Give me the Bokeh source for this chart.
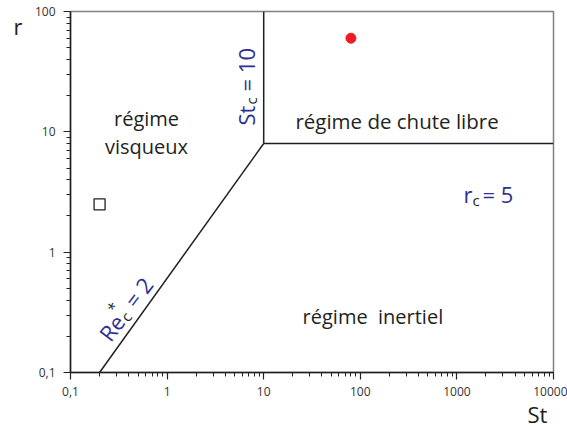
import math
from bokeh.plotting import figure
from bokeh.models import Label, FixedTicker, CustomJSTickFormatter, Range1d
from bokeh.core.properties import value
from bokeh.embed import file_html
from bokeh.resources import INLINE

# ---- data ----
x_ticks = [0.1, 1, 10, 100, 1000, 10000]
x_tick_labels = ["0,1", "1", "10", "100", "1000", "10000"]
y_ticks = [0.1, 1, 10, 100]
y_tick_labels = ["0,1", "1", "10", "100"]

# regime boundaries
re_line_st = [0.2, 10]       # Re*_c = 2
re_line_r = [0.1, 8]
st_line_st = [10, 10]        # St_c = 10
st_line_r = [8, 100]
rc_line_st = [10, 10000]     # r_c = 5 boundary
rc_line_r = [8, 8]

# points
red_st = [80]
red_r = [60]
square_st = [0.2]
square_r = [2.5]

BLUE = "#2e3192"
DARK = "#231f20"
FONT = "Open Sans"

minor_x = [m * 10.0 ** e for e in range(-1, 4) for m in range(2, 10)]
minor_y = [m * 10.0 ** e for e in range(-1, 2) for m in range(2, 10)]

p = figure(width=567, height=430, x_axis_type="log", y_axis_type="log",
           x_range=Range1d(0.1, 10000), y_range=Range1d(0.1, 100),
           output_backend="svg", toolbar_location=None,
           min_border_left=70, min_border_right=14, min_border_top=11,
           min_border_bottom=58)

p.grid.visible = False
p.outline_line_color = "#808080"
p.outline_line_width = 1.5

fmt_code = """
for (let i = 0; i < tvals.length; i++) {
  if (Math.abs(Math.log10(tick) - Math.log10(tvals[i])) < 1e-6) return tlabels[i];
}
return "";
"""
p.xaxis.ticker = FixedTicker(ticks=x_ticks, minor_ticks=minor_x)
p.yaxis.ticker = FixedTicker(ticks=y_ticks, minor_ticks=minor_y)
p.xaxis.formatter = CustomJSTickFormatter(args=dict(tvals=x_ticks, tlabels=x_tick_labels), code=fmt_code)
p.yaxis.formatter = CustomJSTickFormatter(args=dict(tvals=y_ticks, tlabels=y_tick_labels), code=fmt_code)

for ax in (p.xaxis, p.yaxis):
    ax.axis_line_color = DARK
    ax.axis_line_width = 1.5
    ax.major_tick_line_color = DARK
    ax.major_tick_line_width = 1.2
    ax.minor_tick_line_color = DARK
    ax.minor_tick_line_width = 1.0
    ax.major_tick_out = 7
    ax.major_tick_in = 0
    ax.minor_tick_out = 4
    ax.minor_tick_in = 0
    ax.major_label_text_font = FONT
    ax.major_label_text_font_size = "12px"
    ax.major_label_text_color = "#333333"
p.xaxis.major_label_standoff = 7
p.yaxis.major_label_standoff = 8

# boundaries
for xs, ys in ((re_line_st, re_line_r), (st_line_st, st_line_r), (rc_line_st, rc_line_r)):
    p.line(xs, ys, line_color=DARK, line_width=1.5)

p.scatter(red_st, red_r, marker="circle", size=10, fill_color="#ed1c24", line_color="#ed1c24")
p.scatter(square_st, square_r, marker="square", size=11, fill_color=None,
          line_color=DARK, line_width=1.3)

LIFT = 6  # px, raises text relative to its nominal baseline


def label(x, y, text, size, color, angle=0.0, xo=0.0, yo=0.0, align="left"):
    p.add_layout(Label(x=x, y=y, text=text, text_font=FONT, text_font_size=f"{size}px",
                       text_color=color, angle=angle, x_offset=xo, y_offset=yo,
                       text_align=align, text_baseline="alphabetic"))


def composite(x, y, pieces, angle_deg, lift=LIFT):
    a = math.radians(angle_deg)
    for text, s, n, size, color in pieces:
        n = n + lift
        xo = s * math.cos(a) - n * math.sin(a)
        yo = s * math.sin(a) + n * math.cos(a)
        label(x, y, text, size, color, angle=a, xo=xo, yo=yo)


# regime names
label(0.612, 11.4, "régime", 20, DARK, yo=LIFT, align="center")
label(0.612, 6.68, "visqueux", 20, DARK, yo=LIFT, align="center")
label(240, 11.0, "régime de chute libre", 20.5, DARK, yo=LIFT, align="center")
label(135, 0.261, "régime\u00a0 inertiel", 20, DARK, yo=LIFT, align="center")

# criteria
composite(6.96, 11.3, [("St", 0, 0, 22, BLUE), ("c", 21, -5, 15, DARK),
                       ("= 10", 34, 0, 22, BLUE)], 90, lift=2)
composite(1170, 2.71, [("r", 0, 0, 22, BLUE), ("c", 9, -6, 15, DARK),
                       ("= 5", 19, 0, 22, BLUE)], 0)
composite(0.242, 0.183, [("Re", 0, 0, 22, BLUE), ("c", 27, -5, 15, DARK),
                         ("*", 26, 11, 15, DARK), ("= 2", 42, 0, 22, BLUE)], 53, lift=5)

# axis titles (outside the frame: unclipped overlay-level text glyphs)
p.text(x=[0.0257], y=[76.4], text=["r"], text_font=value(FONT), text_font_size="22px",
       text_color=DARK, text_align="left", text_baseline="alphabetic", level="overlay")
p.text(x=[5380], y=[0.0455], text=["St"], text_font=value(FONT), text_font_size="22px",
       text_color=DARK, text_align="left", text_baseline="alphabetic", level="overlay")

open("out.html", "w").write(file_html(p, INLINE))
